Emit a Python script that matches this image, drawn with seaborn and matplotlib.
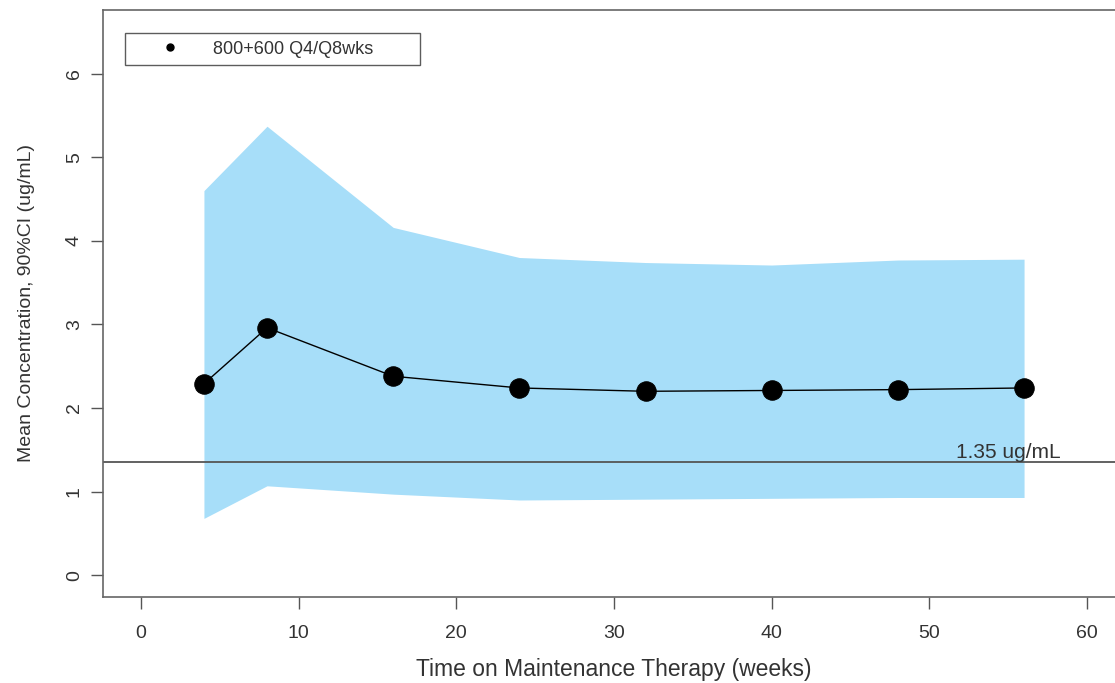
import numpy as np
import pandas as pd
import matplotlib
matplotlib.use("Agg")
import matplotlib.pyplot as plt
from matplotlib.lines import Line2D
import seaborn as sns

# data
weeks = [4, 8, 16, 24, 32, 40, 48, 56]
mean_conc = [2.29, 2.96, 2.38, 2.24, 2.20, 2.21, 2.22, 2.24]
ci_upper = [4.60, 5.37, 4.16, 3.80, 3.74, 3.71, 3.77, 3.78]
ci_lower = [0.68, 1.07, 0.97, 0.90, 0.91, 0.92, 0.93, 0.93]
threshold = 1.35
threshold_label = "1.35 ug/mL"
series_label = "800+600 Q4/Q8wks"
x_ticks = [0, 10, 20, 30, 40, 50, 60]
y_ticks = [0, 1, 2, 3, 4, 5, 6]

df = pd.DataFrame({"week": weeks, "mean": mean_conc})

sns.set_style("white")
plt.rcParams["font.family"] = ["Liberation Sans", "DejaVu Sans"]

fig = plt.figure(figsize=(11.15, 6.83), dpi=100)
# right edge of the box sits just past the image edge, as in the reference
ax = fig.add_axes([103 / 1115, 86 / 683, 1022 / 1115, 587 / 683])

ax.fill_between(weeks, ci_lower, ci_upper, color="#A7DEF9", linewidth=0, zorder=1)
ax.axhline(threshold, color="#555555", linewidth=1.3, zorder=2)
sns.lineplot(data=df, x="week", y="mean", ax=ax, color="black", linewidth=1.0,
             marker="o", markersize=14, markeredgecolor="black", zorder=3)
ax.text(55, threshold + 0.05, threshold_label, ha="center", va="baseline",
        fontsize=15, color="#333333", zorder=4)

ax.set_xlim(-2.4, 62.4)
ax.set_ylim(-0.26, 6.76)
ax.set_xticks(x_ticks)
ax.set_yticks(y_ticks)
ax.set_yticklabels([str(v) for v in y_ticks], rotation=90, va="center")
ax.tick_params(axis="both", direction="out", length=8.5, width=1, color="#555555",
               labelcolor="#333333", labelsize=14, left=True, bottom=True)
ax.tick_params(axis="x", pad=12)
ax.tick_params(axis="y", pad=6)
for s in ax.spines.values():
    s.set_color("#666666")
    s.set_linewidth(1.2)

ax.set_xlabel("Time on Maintenance Therapy (weeks)", fontsize=16.5, color="#333333", labelpad=11)
ax.set_ylabel("Mean Concentration, 90%CI (ug/mL)", fontsize=14, color="#333333", labelpad=22)

handle = Line2D([], [], color="black", marker="o", linestyle="none", markersize=5)
leg = ax.legend([handle], [series_label], loc="upper left",
                bbox_to_anchor=(22 / 1022, 0.8, 295 / 1022, 564 / 587 - 0.8), mode="expand",
                frameon=True, fancybox=False, edgecolor="#333333", fontsize=13,
                borderpad=0.42, handletextpad=0.35, borderaxespad=0, handlelength=4.1)
leg.get_frame().set_linewidth(1.0)
for t in leg.get_texts():
    t.set_color("#333333")

fig.savefig("out.png", dpi=100)
